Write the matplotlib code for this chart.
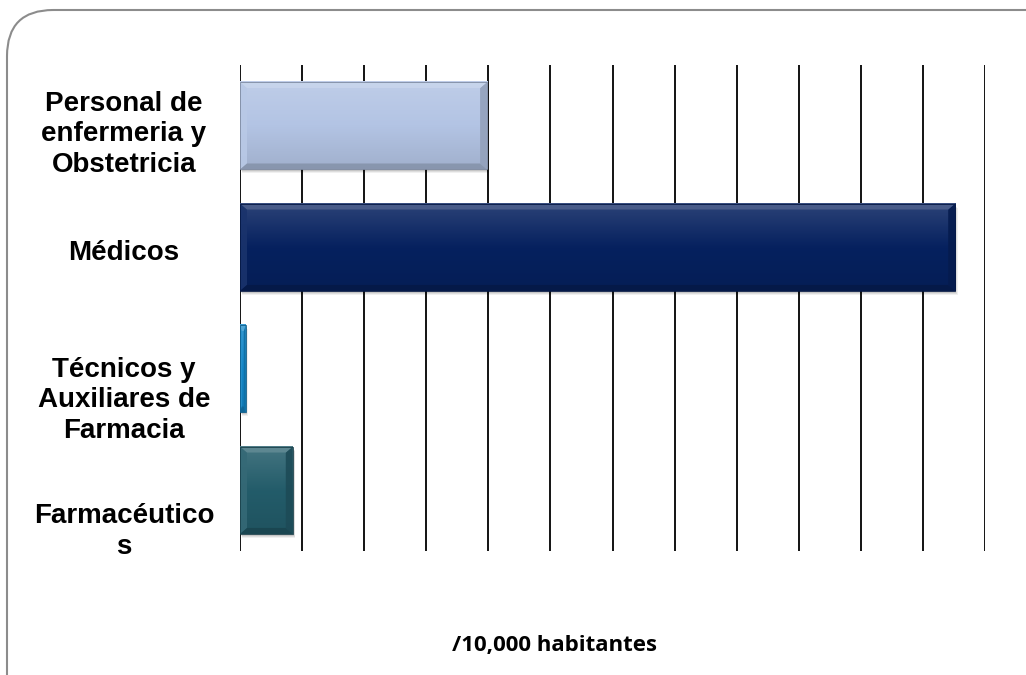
import matplotlib
matplotlib.use("Agg")
import matplotlib.pyplot as plt
from matplotlib.patches import FancyBboxPatch, Polygon, Rectangle
from matplotlib.colors import to_rgb, LinearSegmentedColormap
import matplotlib.transforms as mtransforms
import numpy as np

categories = ["Personal de\nenfermeria y\nObstetricia", "Médicos",
              "Técnicos y\nAuxiliares de\nFarmacia", "Farmacéutico\ns"]
values = [3.98, 11.52, 0.09, 0.85]
colors = ["#b3c4e4", "#06215f", "#1487c8", "#235c6a"]
xlabel = "/10,000 habitantes"

# vertical label offsets (fraction of category slot), as in the original
label_offsets = [0.07, 0.05, 0.26, 0.34]

fig = plt.figure(figsize=(10.26, 6.75), dpi=100)
W, H = 1026, 675
ax = fig.add_axes([240 / W, 1 - 551 / H, (985 - 240) / W, (551 - 65) / H])

# rounded frame
frame = FancyBboxPatch((7 / W, -0.2), 1.2, 1 - 10 / H + 0.2,
                       boxstyle="round,pad=0,rounding_size=0.045",
                       transform=fig.transFigure, facecolor="none",
                       edgecolor="#8c8c8c", linewidth=1.5, mutation_aspect=W / H)
fig.patches.append(frame)

y = np.arange(len(categories))
bar_h = 0.72
ax.set_ylim(len(categories) - 0.5, -0.5)
ax.set_xlim(0, 12)
ax.set_xticks(np.arange(0, 13, 1))
ax.grid(axis="x", color="black", linewidth=1.3, zorder=0)
ax.tick_params(axis="both", length=0, labelbottom=False, labelleft=False)
for s in ax.spines.values():
    s.set_visible(False)

# pixel -> data scale
px_x = 12 / 745.0
px_y = 4 / 486.0


def mix(c, t, amt):
    c = np.array(to_rgb(c)); t = np.array(to_rgb(t))
    return tuple(c + (t - c) * amt)


bars = ax.barh(y, values, height=bar_h, color=colors, linewidth=0, zorder=3)
for b, c in zip(bars, colors):
    x0, w = b.get_x(), b.get_width()
    yc = b.get_y() + b.get_height() / 2
    y0, y1 = yc - bar_h / 2, yc + bar_h / 2   # y0 top (inverted axis), y1 bottom
    x1 = x0 + w
    # drop shadow
    for k, a in [(4, 0.06), (3, 0.08), (2, 0.10)]:
        ax.add_patch(Rectangle((x0 + k * px_x * 0.6, y0 + k * px_y),
                               w, bar_h, facecolor="black", alpha=a,
                               linewidth=0, zorder=2.5))
    # vertical gradient body
    cmap = LinearSegmentedColormap.from_list(
        "g", [mix(c, "white", 0.15), c, mix(c, "black", 0.10)])
    grad = np.linspace(0, 1, 64).reshape(-1, 1)
    ax.imshow(grad, cmap=cmap, aspect="auto", extent=(x0, x1, y1, y0),
              zorder=3.2, interpolation="bilinear")
    ax.set_xlim(0, 12)
    ax.set_ylim(len(categories) - 0.5, -0.5)
    # bevel
    ix = min(7 * px_x, w / 3)
    iy = 6 * px_y
    top = Polygon([(x0, y0), (x1, y0), (x1 - ix, y0 + iy), (x0 + ix, y0 + iy)],
                  closed=True, facecolor=mix(c, "white", 0.28), linewidth=0,
                  zorder=3.4, alpha=0.9)
    bot = Polygon([(x0, y1), (x1, y1), (x1 - ix, y1 - iy), (x0 + ix, y1 - iy)],
                  closed=True, facecolor=mix(c, "black", 0.25), linewidth=0,
                  zorder=3.4, alpha=0.9)
    left = Polygon([(x0, y0), (x0 + ix, y0 + iy), (x0 + ix, y1 - iy), (x0, y1)],
                   closed=True, facecolor=mix(c, "white", 0.08), linewidth=0,
                   zorder=3.3, alpha=0.9)
    right = Polygon([(x1, y0), (x1 - ix, y0 + iy), (x1 - ix, y1 - iy), (x1, y1)],
                    closed=True, facecolor=mix(c, "black", 0.18), linewidth=0,
                    zorder=3.3, alpha=0.9)
    for p in (top, bot, left, right):
        ax.add_patch(p)
    ax.add_patch(Rectangle((x0, y0), w, bar_h, facecolor="none",
                           edgecolor=mix(c, "black", 0.3), linewidth=0.6,
                           zorder=3.5))

trans = mtransforms.blended_transform_factory(ax.transAxes, ax.transData)
for i, (lab, off) in enumerate(zip(categories, label_offsets)):
    ax.text(-116 / 745.0, i + off, lab, transform=trans, ha="center",
            va="center", fontfamily="Liberation Sans", fontweight="bold",
            fontsize=20, linespacing=1.22, color="black")

fig.text(555 / W, 1 - 645 / H, xlabel, ha="center", va="center",
         fontfamily="Open Sans", fontweight="bold", fontsize=16)

fig.savefig("out.png", dpi=100)
